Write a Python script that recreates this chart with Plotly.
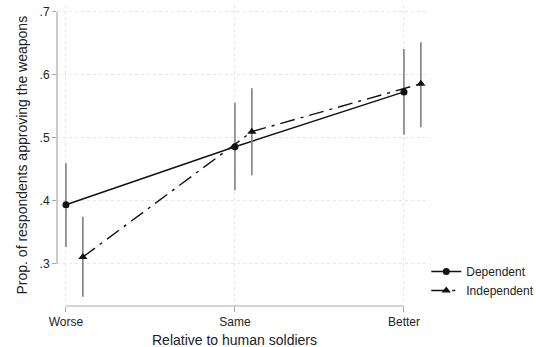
import plotly.graph_objects as go

categories = ["Worse", "Same", "Better"]
cat_pos = [0, 1, 2]
dep_vals = [0.394, 0.486, 0.573]
dep_lo = [0.327, 0.417, 0.505]
dep_hi = [0.460, 0.556, 0.641]
ind_vals = [0.311, 0.510, 0.586]
ind_lo = [0.248, 0.441, 0.517]
ind_hi = [0.375, 0.579, 0.652]
ind_offset = 0.1
y_ticks = [0.3, 0.4, 0.5, 0.6, 0.7]
y_ticktext = [".3", ".4", ".5", ".6", ".7"]

FONT = "Liberation Sans, Arial, sans-serif"
ERR = "#808080"
AX = "#a8a8a8"

fig = go.Figure()

def add_series(xs, vals, lo, hi, name, symbol, dash, msize):
    fig.add_trace(go.Scatter(
        x=xs, y=vals, name=name, mode="lines+markers",
        line=dict(color="#111111", width=1.4, dash=dash),
        marker=dict(symbol=symbol, size=msize, color="#111111"),
        error_y=dict(type="data", symmetric=False,
                     array=[h - v for h, v in zip(hi, vals)],
                     arrayminus=[v - l for v, l in zip(vals, lo)],
                     color=ERR, thickness=1.6, width=0),
    ))

add_series(cat_pos, dep_vals, dep_lo, dep_hi, "Dependent", "circle", "solid", 7)
add_series([c + ind_offset for c in cat_pos], ind_vals, ind_lo, ind_hi,
           "Independent", "triangle-up", "longdashdot", 8)

# Stata-style axis lines spanning only the tick range
fig.add_shape(type="line", xref="x", yref="paper", x0=cat_pos[0], x1=cat_pos[-1],
              y0=0, y1=0, line=dict(color=AX, width=1.2))
fig.add_shape(type="line", xref="paper", yref="y", x0=0, x1=0,
              y0=y_ticks[0], y1=y_ticks[-1], line=dict(color=AX, width=1.2))

# Axis titles
fig.add_annotation(text="Relative to human soldiers", xref="x", yref="paper",
                   x=1, y=0, yshift=-44, showarrow=False,
                   font=dict(size=14, family=FONT, color="#222222"))
fig.add_annotation(text="Prop. of respondents approving the weapons", xref="paper", yref="paper",
                   x=0, y=0.5, xshift=-46, textangle=-90, showarrow=False,
                   font=dict(size=14, family=FONT, color="#222222"))

fig.update_layout(
    width=536, height=347,
    margin=dict(l=57, r=106, t=5, b=41, autoexpand=False),
    paper_bgcolor="white", plot_bgcolor="white",
    font=dict(family=FONT, color="#222222", size=12),
    showlegend=True,
    legend=dict(x=0.99, y=0.083, xanchor="left", yanchor="middle",
                font=dict(size=12, family=FONT), bgcolor="rgba(0,0,0,0)",
                itemwidth=30, tracegroupgap=0),
    xaxis=dict(range=[-0.053, 2.154], tickvals=cat_pos, ticktext=categories,
               showline=False, zeroline=False, showgrid=True, automargin=False,
               gridcolor="#e6e6e6", griddash="dot", gridwidth=1,
               ticks="outside", ticklen=5, tickcolor=AX,
               tickfont=dict(size=12)),
    yaxis=dict(range=[0.2333, 0.711], tickvals=y_ticks, ticktext=y_ticktext,
               showline=False, zeroline=False, showgrid=True, automargin=False,
               gridcolor="#e6e6e6", griddash="dot", gridwidth=1,
               ticks="outside", ticklen=4, tickcolor=AX,
               tickfont=dict(size=12)),
)

fig.write_html("out.html", config={"displayModeBar": False},
               post_script="document.body.style.margin='0';document.body.style.padding='0';")
